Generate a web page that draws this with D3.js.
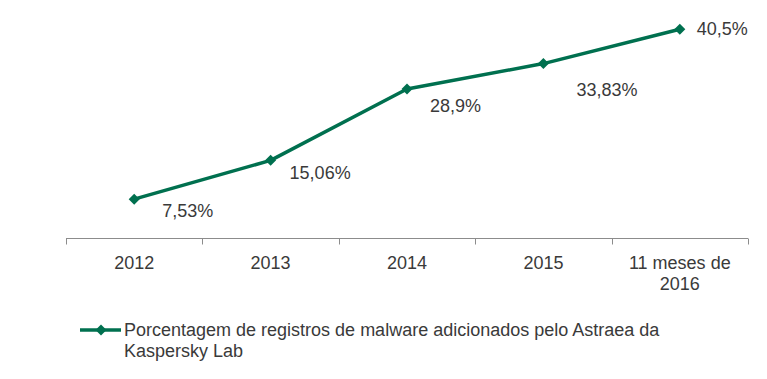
<!DOCTYPE html>
<meta charset="utf-8">
<style>
body { margin: 0; background: #fff; }
text { font-family: "Liberation Sans", Arial, sans-serif; fill: #3a3a3a; }
</style>
<body>
<svg width="767" height="379"></svg>
</body>
<script src="https://d3js.org/d3.v7.min.js"></script>
<script>

var categories = ["2012", "2013", "2014", "2015", "11 meses de|2016"];
var values = [7.53, 15.06, 28.9, 33.83, 40.5];
var valueLabels = ["7,53%", "15,06%", "28,9%", "33,83%", "40,5%"];
var seriesName = "Porcentagem de registros de malware adicionados pelo Astraea da|Kaspersky Lab";

// label placement (dx, dy from the point), as hand-placed in the original
var labelShift = [[28, 12], [19, 13], [23, 17], [33, 26], [17, 0]];

var svg = d3.select("svg"),
    color = "#00704f";

var x = d3.scaleBand()
    .domain(categories)
    .range([66, 748]);

var y = d3.scaleLinear()
    .domain([0, 45])
    .range([238, 6]);

// axis
var axis = svg.append("g").attr("transform", "translate(0,238.5)");
axis.append("line")
    .attr("x1", 66).attr("x2", 748)
    .attr("stroke", "#8c8c8c");
var edges = categories.map(function(c) { return x(c); }).concat([x.range()[1]]);
axis.selectAll(".tick")
  .data(edges)
  .enter().append("line")
    .attr("x1", function(d) { return Math.round(d) + 0.5; })
    .attr("x2", function(d) { return Math.round(d) + 0.5; })
    .attr("y1", 0).attr("y2", 6)
    .attr("stroke", "#8c8c8c");

axis.selectAll(".lbl")
  .data(categories)
  .enter().append("text")
    .attr("text-anchor", "middle")
    .attr("font-size", 18)
    .attr("x", function(d) { return x(d) + x.bandwidth() / 2; })
    .selectAll("tspan")
    .data(function(d) { return d.split("|"); })
    .enter().append("tspan")
      .attr("x", function() { var p = this.parentNode; return p.getAttribute("x"); })
      .attr("y", function(d, i) { return 30 + i * 21; })
      .text(function(d) { return d; });

var pts = values.map(function(v, i) {
  return [x(categories[i]) + x.bandwidth() / 2, y(v)];
});

svg.append("path")
    .datum(pts)
    .attr("fill", "none")
    .attr("stroke", color)
    .attr("stroke-width", 3.5)
    .attr("stroke-linejoin", "round")
    .attr("d", d3.line());

var diamond = "M0,-5.5L5.5,0L0,5.5L-5.5,0Z";

svg.selectAll(".pt")
  .data(pts)
  .enter().append("path")
    .attr("fill", color)
    .attr("transform", function(d) { return "translate(" + d[0] + "," + d[1] + ")"; })
    .attr("d", diamond);

svg.selectAll(".val")
  .data(pts)
  .enter().append("text")
    .attr("font-size", 18)
    .attr("dominant-baseline", "central")
    .attr("x", function(d, i) { return d[0] + labelShift[i][0]; })
    .attr("y", function(d, i) { return d[1] + labelShift[i][1]; })
    .text(function(d, i) { return valueLabels[i]; });

// legend
var lg = svg.append("g").attr("transform", "translate(80,330)");
lg.append("line")
    .attr("x1", 0).attr("x2", 41)
    .attr("stroke", color)
    .attr("stroke-width", 3.5);
lg.append("path")
    .attr("fill", color)
    .attr("transform", "translate(21,0)")
    .attr("d", diamond);
lg.append("text")
    .attr("font-size", 18)
    .selectAll("tspan")
    .data(seriesName.split("|"))
    .enter().append("tspan")
      .attr("x", 44)
      .attr("y", function(d, i) { return 6 + i * 21; })
      .text(function(d) { return d; });

</script>
